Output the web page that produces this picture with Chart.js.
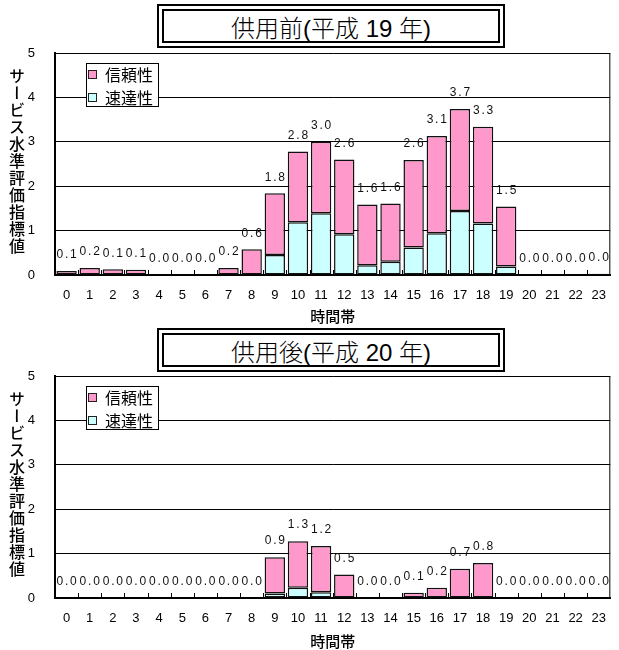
<!DOCTYPE html>
<html>
<head>
<meta charset="utf-8">
<script src="https://cdn.jsdelivr.net/npm/chart.js@4.4.1/dist/chart.umd.min.js"></script>
<style>
  html, body { margin: 0; padding: 0; background: #fff; }
  #wrap { position: relative; width: 619px; height: 650px; overflow: hidden; }
  .panel { position: absolute; left: 0; width: 619px; height: 325px; }
  .panel canvas { position: absolute; left: 0; top: 0; }
  .tbox { position: absolute; left: 157px; width: 348px; height: 44px; box-sizing: border-box;
          border: 2px solid #000; padding: 3px; background: #fff; }
  .tbox div { box-sizing: border-box; height: 100%; border: 2px solid #000; display: flex;
              align-items: center; justify-content: center; color: #000;
              font: 300 24px "Liberation Sans", "Noto Sans CJK JP", sans-serif; white-space: pre; }
  .ytitle { position: absolute; left: 8px; writing-mode: vertical-rl; color: #000;
            font: 500 16px "Noto Sans CJK JP", sans-serif; letter-spacing: 1px; line-height: 17px; }
  .legend { position: absolute; left: 86px; width: 73px; height: 44px; box-sizing: border-box;
            border: 1px solid #000; background: #fff; }
  .legend .row { position: absolute; left: 1px; height: 20px; display: flex; align-items: center;
                 font: 16px "Noto Sans CJK JP", sans-serif; color: #000; }
  .legend .sw { width: 7px; height: 7px; border: 1px solid #222; margin-right: 8px; }
</style>
</head>
<body>
<div id="wrap"></div>
<script>
// Hour-of-day categories
const hours = ['0','1','2','3','4','5','6','7','8','9','10','11','12','13','14','15','16','17','18','19','20','21','22','23'];

// 平成19年 (before opening)
const speed19 = [0, 0, 0, 0, 0, 0, 0, 0, 0, 0.45, 1.19, 1.39, 0.92, 0.22, 0.30, 0.62, 0.94, 1.44, 1.16, 0.19, 0, 0, 0, 0];
const rel19   = [0.09, 0.16, 0.13, 0.12, 0, 0, 0, 0.16, 0.58, 1.39, 1.59, 1.61, 1.68, 1.37, 1.31, 1.97, 2.19, 2.30, 2.18, 1.35, 0, 0, 0, 0.03];

// 平成20年 (after opening)
const speed20 = [0, 0, 0, 0, 0, 0, 0, 0, 0, 0.10, 0.23, 0.13, 0, 0, 0, 0, 0, 0, 0, 0, 0, 0, 0, 0];
const rel20   = [0, 0, 0, 0, 0, 0, 0, 0, 0, 0.82, 1.05, 1.04, 0.53, 0, 0, 0.12, 0.23, 0.66, 0.79, 0, 0, 0, 0, 0];

// Y axis ticks
const yTicks = [0, 1, 2, 3, 4, 5];

const seriesNames = { rel: '信頼性', speed: '速達性' };
const seriesColors = { rel: '#FF99CC', speed: '#CCFFFF' };
const yTitle = 'サービス水準評価指標値';
const xTitle = '時間帯';

const panels = [
  { title: '供用前(平成 19 年)', speed: speed19, rel: rel19, top: 0,   plotTop: 53, axisH: 50, titleTop: 4 },
  { title: '供用後(平成 20 年)', speed: speed20, rel: rel20, top: 325, plotTop: 51, axisH: 52, titleTop: 3 }
];

// Draws text with extra spacing between characters, centred on (cx, cy)
function drawSpaced(ctx, text, cx, cy, spacing) {
  const chars = [...text];
  const widths = chars.map(c => ctx.measureText(c).width);
  const total = widths.reduce((a, b) => a + b, 0) + spacing * (chars.length - 1);
  let x = cx - total / 2;
  ctx.textAlign = 'left';
  ctx.textBaseline = 'middle';
  chars.forEach((c, i) => { ctx.fillText(c, x, cy); x += widths[i] + spacing; });
}

// Total of each stacked column, printed above it
const totalLabels = {
  id: 'totalLabels',
  afterDatasetsDraw(chart) {
    const ctx = chart.ctx, xs = chart.scales.x, ys = chart.scales.y;
    ctx.save();
    ctx.font = '12px "Liberation Sans", Arial, sans-serif';
    ctx.fillStyle = '#111';
    chart.data.labels.forEach((lab, i) => {
      const sum = chart.data.datasets.reduce((s, d) => s + (d.data[i] || 0), 0);
      const x = xs.getPixelForValue(i);
      const y = ys.getPixelForValue(sum);
      drawSpaced(ctx, sum.toFixed(1), x, y - 16, 1.8);
    });
    ctx.restore();
  }
};

// Right frame edge and short inward tick marks at category boundaries
const plotFrame = {
  id: 'plotFrame',
  afterDraw(chart) {
    const ctx = chart.ctx, a = chart.chartArea, xs = chart.scales.x;
    ctx.save();
    ctx.strokeStyle = '#000';
    ctx.lineWidth = 1;
    ctx.beginPath();
    ctx.moveTo(a.right - 0.5, a.top);
    ctx.lineTo(a.right - 0.5, a.bottom);
    ctx.stroke();
    const n = chart.data.labels.length;
    for (let i = 1; i < n; i++) {
      const bx = Math.round((xs.getPixelForValue(i - 1) + xs.getPixelForValue(i)) / 2) + 0.5;
      ctx.beginPath();
      ctx.moveTo(bx, a.bottom);
      ctx.lineTo(bx, a.bottom - 5);
      ctx.stroke();
    }
    ctx.restore();
  }
};

const wrap = document.getElementById('wrap');

panels.forEach(p => {
  const panel = document.createElement('div');
  panel.className = 'panel';
  panel.style.top = p.top + 'px';
  wrap.appendChild(panel);

  const canvas = document.createElement('canvas');
  canvas.width = 619;
  canvas.height = 325;
  canvas.style.width = '619px';
  canvas.style.height = '325px';
  panel.appendChild(canvas);

  const datasets = [
    { key: 'speed', label: seriesNames.speed, data: p.speed },
    { key: 'rel',   label: seriesNames.rel,   data: p.rel }
  ].map(d => ({
    label: d.label,
    data: d.data,
    backgroundColor: seriesColors[d.key],
    borderColor: '#111',
    borderWidth: 1.5,
    borderSkipped: false,
    barPercentage: 0.88,
    categoryPercentage: 1,
    stack: 'total'
  }));

  new Chart(canvas, {
    type: 'bar',
    data: { labels: hours, datasets },
    options: {
      responsive: false,
      animation: false,
      devicePixelRatio: 1,
      layout: { padding: { top: p.plotTop, right: 1, left: 0, bottom: 0 } },
      plugins: { legend: { display: false }, tooltip: { enabled: false } },
      scales: {
        x: {
          stacked: true,
          grid: { display: false, drawTicks: false },
          border: { display: true, color: '#000', width: 2 },
          ticks: { color: '#000', padding: 13, maxRotation: 0, autoSkip: false,
                   font: { family: '"Liberation Sans", Arial, sans-serif', size: 13 } },
          title: { display: true, text: xTitle, color: '#000', padding: 0,
                   font: { family: '"Noto Sans CJK JP", sans-serif', size: 15, weight: '500' } },
          afterFit(s) { s.height = p.axisH; }
        },
        y: {
          stacked: true,
          min: yTicks[0],
          max: yTicks[yTicks.length - 1],
          afterBuildTicks(s) { s.ticks = yTicks.map(v => ({ value: v })); },
          grid: { color: '#000', lineWidth: 1, drawTicks: false },
          border: { display: true, color: '#000', width: 2 },
          ticks: { color: '#000', padding: 20,
                   font: { family: '"Liberation Sans", Arial, sans-serif', size: 13 } },
          afterFit(s) { s.width = 55; }
        }
      }
    },
    plugins: [totalLabels, plotFrame]
  });

  // Title box with double frame
  const tbox = document.createElement('div');
  tbox.className = 'tbox';
  tbox.style.top = p.titleTop + 'px';
  const tin = document.createElement('div');
  tin.textContent = p.title;
  tbox.appendChild(tin);
  panel.appendChild(tbox);

  // Vertical y-axis title
  const yt = document.createElement('div');
  yt.className = 'ytitle';
  yt.style.top = (p.plotTop + 15) + 'px';
  yt.textContent = yTitle;
  panel.appendChild(yt);

  // Legend, reliability listed first
  const lg = document.createElement('div');
  lg.className = 'legend';
  lg.style.top = (p.plotTop + 10) + 'px';
  ['rel', 'speed'].forEach((k, i) => {
    const row = document.createElement('div');
    row.className = 'row';
    row.style.top = (i === 0 ? 0 : 23) + 'px';
    const sw = document.createElement('span');
    sw.className = 'sw';
    sw.style.background = seriesColors[k];
    const tx = document.createElement('span');
    tx.textContent = seriesNames[k];
    row.appendChild(sw);
    row.appendChild(tx);
    lg.appendChild(row);
  });
  panel.appendChild(lg);
});
</script>
</body>
</html>
